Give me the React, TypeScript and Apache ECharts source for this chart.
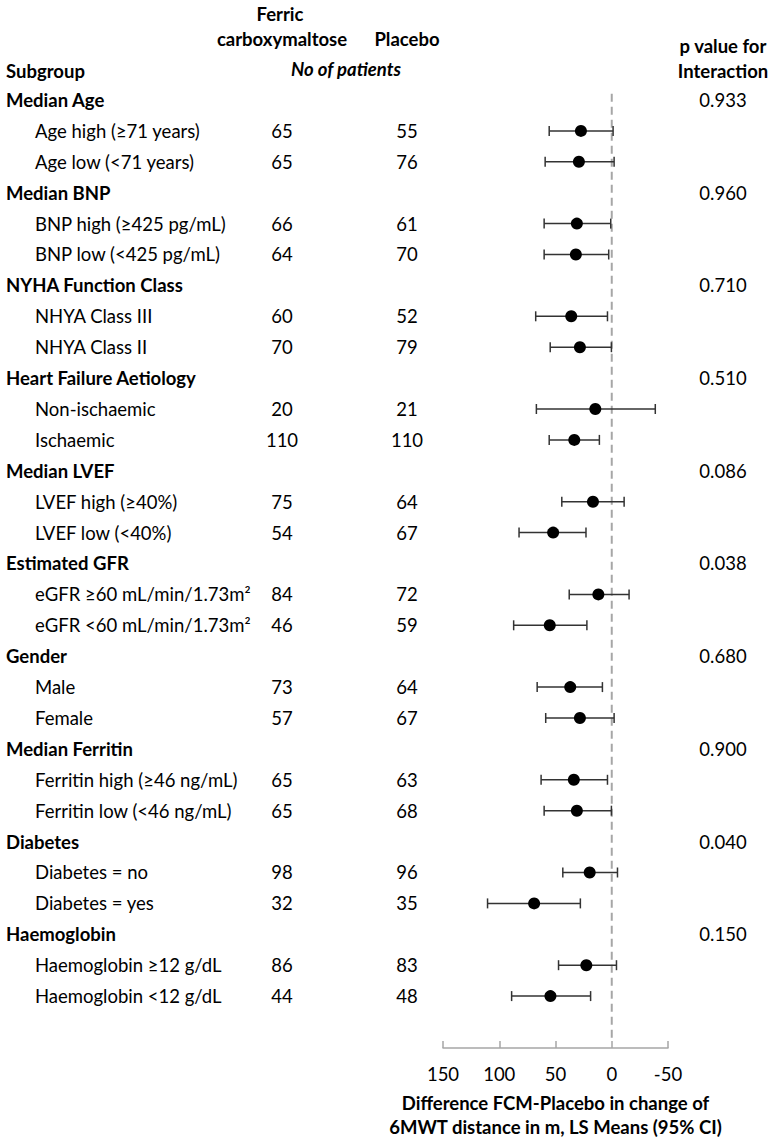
import React, { useEffect, useRef } from "react";
import * as echarts from "echarts";

const groupNames = [
  "Median Age",
  "Median BNP",
  "NYHA Function Class",
  "Heart Failure Aetiology",
  "Median LVEF",
  "Estimated GFR",
  "Gender",
  "Median Ferritin",
  "Diabetes",
  "Haemoglobin",
];
const pValues = ["0.933", "0.960", "0.710", "0.510", "0.086", "0.038", "0.680", "0.900", "0.040", "0.150"];

const subLabels = [
  "Age high (≥71 years)",
  "Age low (<71 years)",
  "BNP high (≥425 pg/mL)",
  "BNP low (<425 pg/mL)",
  "NHYA Class III",
  "NHYA Class II",
  "Non-ischaemic",
  "Ischaemic",
  "LVEF high (≥40%)",
  "LVEF low (<40%)",
  "eGFR ≥60 mL/min/1.73m²",
  "eGFR <60 mL/min/1.73m²",
  "Male",
  "Female",
  "Ferritin high (≥46 ng/mL)",
  "Ferritin low (<46 ng/mL)",
  "Diabetes = no",
  "Diabetes = yes",
  "Haemoglobin ≥12 g/dL",
  "Haemoglobin <12 g/dL",
];
const fcmN = [65, 65, 66, 64, 60, 70, 20, 110, 75, 54, 84, 46, 73, 57, 65, 65, 98, 32, 86, 44];
const placeboN = [55, 76, 61, 70, 52, 79, 21, 110, 64, 67, 72, 59, 64, 67, 63, 68, 96, 35, 83, 48];
const estimates = [27.4, 29.2, 31.0, 31.9, 36.0, 28.3, 14.6, 33.3, 16.7, 52.1, 11.9, 55.1, 36.9, 28.3, 33.7, 31.0, 19.6, 69.0, 22.6, 54.5];
const ciUpper = [55.6, 59.2, 60.1, 60.1, 67.6, 54.7, 67.0, 55.6, 44.4, 82.4, 37.8, 87.2, 66.3, 58.7, 62.8, 60.1, 43.5, 110.4, 47.3, 89.0];
const ciLower = [-1.2, -2.1, 0.9, 2.7, 3.8, 0.3, -38.7, 11.0, -11.0, 22.9, -15.4, 22.1, 8.3, -2.1, 3.8, 0.3, -5.1, 27.9, -4.2, 18.8];

const xTickMin = -50;
const xTickMax = 150;
const xTickStep = 50;
const axisTitle = "Difference FCM-Placebo in change of\n6MWT distance in m, LS Means (95% CI)";

const FONT = "Lato";
const FS = 18.5;

export default function App() {
  const ref = useRef<HTMLDivElement>(null);

  useEffect(() => {
    if (!ref.current) return;
    const chart = echarts.init(ref.current, null, { renderer: "svg" });

    // row layout: each group has a header row followed by its two subgroup rows
    const subRow: number[] = subLabels.map((_, i) => Math.floor(i / 2) * 3 + (i % 2) + 1);
    const groupRow: number[] = groupNames.map((_, g) => g * 3);

    type TextItem = { row: number; text: string; px: number; align: string; bold: boolean };
    const textItems: TextItem[] = [];
    groupNames.forEach((name, g) => {
      textItems.push({ row: groupRow[g], text: name, px: 6, align: "left", bold: true });
      textItems.push({ row: groupRow[g], text: pValues[g], px: 723, align: "center", bold: false });
    });
    subLabels.forEach((lab, i) => {
      textItems.push({ row: subRow[i], text: lab, px: 35, align: "left", bold: false });
      textItems.push({ row: subRow[i], text: String(fcmN[i]), px: 282, align: "center", bold: false });
      textItems.push({ row: subRow[i], text: String(placeboN[i]), px: 407, align: "center", bold: false });
    });

    const headerText = (text: string, x: number, y: number, align: string, extra: any = {}) => ({
      type: "text",
      x,
      y,
      style: {
        text,
        fill: "#000",
        fontFamily: FONT,
        fontSize: FS,
        fontWeight: "bold",
        align,
        textAlign: align,
        verticalAlign: "middle",
        textVerticalAlign: "middle",
        ...extra,
      },
    });

    const option: any = {
      animation: false,
      graphic: [
        headerText("Ferric", 280, 14, "center"),
        headerText("carboxymaltose", 282, 39, "center"),
        headerText("Placebo", 407, 39, "center"),
        headerText("No of patients", 346, 69, "center", { fontStyle: "italic" }),
        headerText("Subgroup", 6, 71, "left"),
        headerText("p value for", 723, 46, "center"),
        headerText("Interaction", 723, 71, "center"),
      ],
      grid: { left: 443, width: 225, top: 69.1, height: 978.9 },
      xAxis: {
        type: "value",
        position: "bottom",
        inverse: true,
        min: xTickMin,
        max: xTickMax,
        interval: xTickStep,
        axisLine: { show: true, onZero: false, lineStyle: { color: "#a6a6a6", width: 1.5 } },
        axisTick: { show: true, inside: true, length: 7, lineStyle: { color: "#a6a6a6", width: 1.5 } },
        axisLabel: { fontFamily: FONT, fontSize: FS, color: "#000", margin: 16 },
        splitLine: { show: false },
        name: axisTitle,
        nameLocation: "middle",
        nameGap: 43,
        nameTextStyle: { fontFamily: FONT, fontSize: FS, fontWeight: "bold", color: "#000", lineHeight: 24 },
      },
      yAxis: { type: "value", inverse: true, min: -1, max: 30.68, show: false },
      series: [
        {
          type: "line",
          data: [
            [0, -0.2],
            [0, 30.4],
          ],
          symbol: "none",
          silent: true,
          lineStyle: { color: "#a6a6a6", width: 2, type: [8, 5] },
          z: 1,
        },
        {
          type: "custom",
          z: 2,
          silent: true,
          encode: { x: [1, 2], y: 0 },
          data: subRow.map((r, i) => [r, ciUpper[i], ciLower[i]]),
          renderItem: (params: any, api: any) => {
            const a = api.coord([api.value(1), api.value(0)]);
            const b = api.coord([api.value(2), api.value(0)]);
            const h = 5;
            const st = { stroke: "#333", lineWidth: 1.5 };
            return {
              type: "group",
              children: [
                { type: "line", shape: { x1: a[0], y1: a[1], x2: b[0], y2: b[1] }, style: st },
                { type: "line", shape: { x1: a[0], y1: a[1] - h, x2: a[0], y2: a[1] + h }, style: st },
                { type: "line", shape: { x1: b[0], y1: b[1] - h, x2: b[0], y2: b[1] + h }, style: st },
              ],
            };
          },
        },
        {
          type: "scatter",
          z: 3,
          silent: true,
          symbol: "circle",
          symbolSize: 12,
          itemStyle: { color: "#000", opacity: 1 },
          data: estimates.map((v, i) => [v, subRow[i]]),
        },
        {
          type: "custom",
          z: 4,
          silent: true,
          clip: false,
          encode: { x: 0, y: 1 },
          data: textItems.map((t) => [0, t.row]),
          renderItem: (params: any, api: any) => {
            const t = textItems[params.dataIndex];
            const y = api.coord([0, t.row])[1];
            return {
              type: "text",
              x: t.px,
              y,
              style: {
                text: t.text,
                fill: "#000",
                fontFamily: FONT,
                fontSize: FS,
                fontWeight: t.bold ? "bold" : "normal",
                align: t.align,
                textAlign: t.align,
                verticalAlign: "middle",
                textVerticalAlign: "middle",
              },
            };
          },
        },
      ],
    };

    chart.setOption(option);
    return () => chart.dispose();
  }, []);

  return (
    <div
      ref={ref}
      style={{ position: "absolute", left: 0, top: 0, width: 774, height: 1145, background: "#fff" }}
    />
  );
}
